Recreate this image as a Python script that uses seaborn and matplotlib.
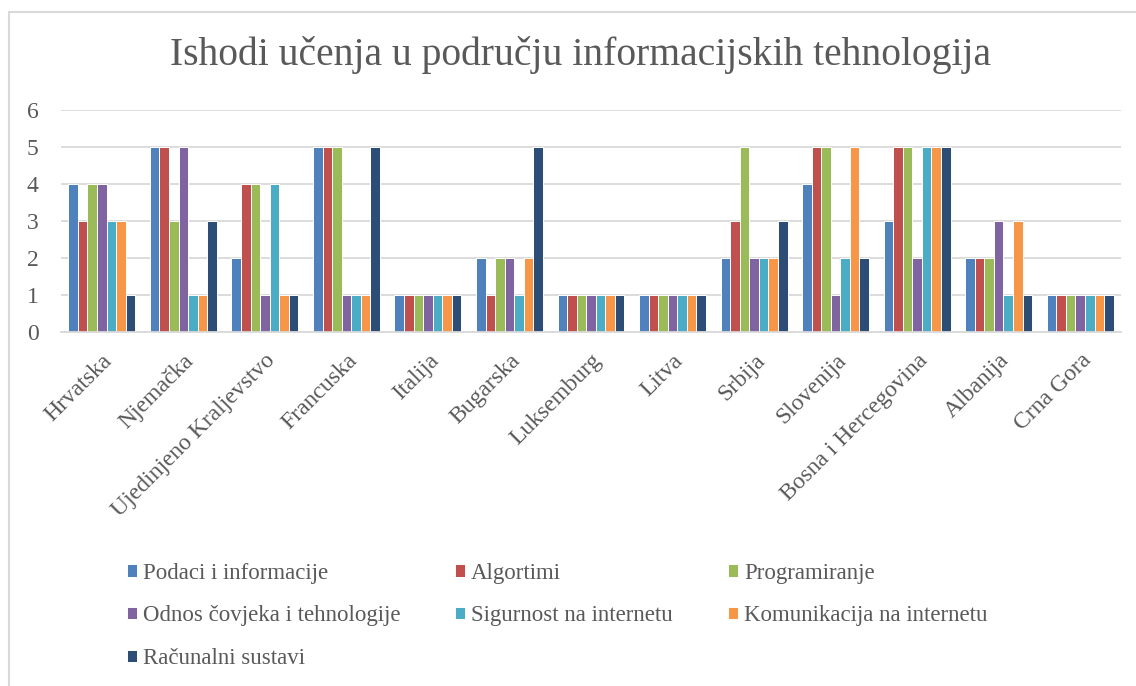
import pandas as pd
import matplotlib.pyplot as plt
import seaborn as sns
from matplotlib.patches import Rectangle

# Data
countries = ["Hrvatska", "Njemačka", "Ujedinjeno Kraljevstvo", "Francuska", "Italija",
             "Bugarska", "Luksemburg", "Litva", "Srbija", "Slovenija",
             "Bosna i Hercegovina", "Albanija", "Crna Gora"]
series = ["Podaci i informacije", "Algortimi", "Programiranje",
          "Odnos čovjeka i tehnologije", "Sigurnost na internetu",
          "Komunikacija na internetu", "Računalni sustavi"]

podaci = [4, 5, 2, 5, 1, 2, 1, 1, 2, 4, 3, 2, 1]
algoritmi = [3, 5, 4, 5, 1, 1, 1, 1, 3, 5, 5, 2, 1]
programiranje = [4, 3, 4, 5, 1, 2, 1, 1, 5, 5, 5, 2, 1]
odnos = [4, 5, 1, 1, 1, 2, 1, 1, 2, 1, 2, 3, 1]
sigurnost = [3, 1, 4, 1, 1, 1, 1, 1, 2, 2, 5, 1, 1]
komunikacija = [3, 1, 1, 1, 1, 2, 1, 1, 2, 5, 5, 3, 1]
racunalni = [1, 3, 1, 5, 1, 5, 1, 1, 3, 2, 5, 1, 1]

colors = ["#4F81BD", "#C0504D", "#9BBB59", "#8064A2", "#4BACC6", "#F79646", "#2C4D75"]

values = [podaci, algoritmi, programiranje, odnos, sigurnost, komunikacija, racunalni]
rows = []
for s, vals in zip(series, values):
    for c, v in zip(countries, vals):
        rows.append({"Zemlja": c, "Ishod": s, "Vrijednost": v})
df = pd.DataFrame(rows)

sns.set_style("white")
plt.rcParams['font.family'] = ['Liberation Serif', 'DejaVu Serif']
text_col = "#595959"

fig = plt.figure(figsize=(11.36, 6.86), dpi=100)
ax = fig.add_axes([61 / 1136, 1 - 332 / 686, (1121 - 61) / 1136, (332 - 110) / 686])

sns.barplot(data=df, x="Zemlja", y="Vrijednost", hue="Ishod",
            order=countries, hue_order=series, palette=colors, saturation=1,
            width=0.82, edgecolor="white", linewidth=0.7, ax=ax, legend=True)

ax.set_ylim(0, 6)
ax.set_yticks(range(0, 7))
ax.yaxis.grid(True, color="#D9D9D9", linewidth=1.3)
ax.set_axisbelow(True)
for side in ["top", "right", "left"]:
    ax.spines[side].set_visible(False)
ax.spines["bottom"].set_color("#D9D9D9")
ax.spines["bottom"].set_linewidth(1.3)
ax.set_xlabel("")
ax.set_ylabel("")
ax.tick_params(axis="both", length=0, colors=text_col, labelsize=17)
ax.tick_params(axis="y", pad=16)
ax.tick_params(axis="x", pad=13)
plt.setp(ax.get_xticklabels(), rotation=45, ha="right", rotation_mode="anchor")

fig.text(581 / 1136, 1 - 55 / 686, "Ishodi učenja u području informacijskih tehnologija",
         ha="center", va="center", fontsize=28.5, color=text_col)

# legend filled row by row like Excel
handles, labels = ax.get_legend_handles_labels()
ax.get_legend().remove()
order = [0, 3, 6, 1, 4, 2, 5]
fig.legend([handles[i] for i in order], [labels[i] for i in order],
           loc="upper left", bbox_to_anchor=(106 / 1136, 1 - 542 / 686),
           ncol=3, frameon=False, fontsize=16.5, handlelength=0.45, handleheight=0.45,
           handletextpad=0.25, columnspacing=2.4, labelspacing=0.95, labelcolor=text_col)

# outer chart frame
fig.patches.append(Rectangle((8.5 / 1136, -0.1), 1.2, 1 - 12.5 / 686 + 0.1,
                             transform=fig.transFigure, fill=False,
                             edgecolor="#D9D9D9", linewidth=1.5))

fig.savefig("out.png", dpi=100)
